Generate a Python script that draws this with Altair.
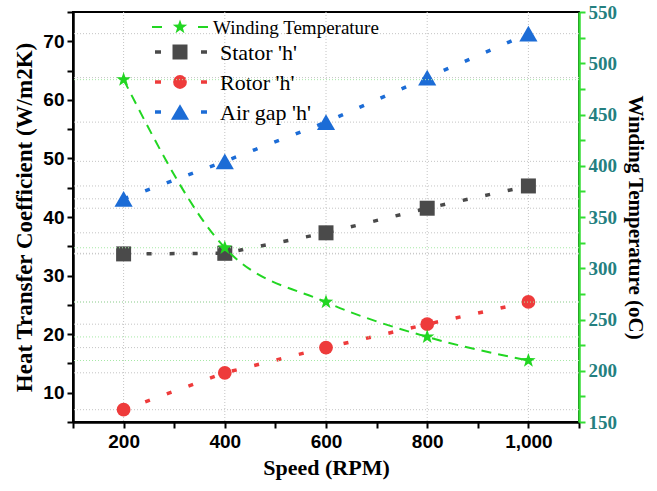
import altair as alt
import pandas as pd

speed = [200, 400, 600, 800, 1000]
stator_h = [33.7, 33.8, 37.3, 41.5, 45.3]
rotor_h = [7.1, 13.4, 17.7, 21.7, 25.5]
airgap_h = [43.1, 49.5, 56.2, 63.8, 71.3]
winding_temp = [484, 320, 267, 233, 210]

series_names = ["Winding Temperature", "Stator 'h'", "Rotor 'h'", "Air gap 'h'"]
series_colors = ["#22d622", "#4a4a4a", "#ee3b3b", "#1c6cd6"]
STAR = ("M0,-1L0.235,-0.324L0.951,-0.309L0.38,0.124L0.588,0.809L0,0.4"
        "L-0.588,0.809L-0.38,0.124L-0.951,-0.309L-0.235,-0.324Z")
series_shapes = [STAR, "square", "circle", "triangle-up"]
series_sizes = [230, 225, 190, 330]

stator_df = pd.DataFrame({"speed": speed, "value": stator_h})
rotor_df = pd.DataFrame({"speed": speed, "value": rotor_h})
airgap_df = pd.DataFrame({"speed": speed, "value": airgap_h})
left_df = pd.concat([stator_df, rotor_df, airgap_df], ignore_index=True)
right_df = pd.DataFrame({"speed": speed, "temp": winding_temp})

x_scale = alt.Scale(domain=[100, 1100], nice=False, zero=False)
yl_scale = alt.Scale(domain=[5, 75], nice=False, zero=False)
yr_scale = alt.Scale(domain=[150, 550], nice=False, zero=False)

x_axis = alt.Axis(
    values=list(range(100, 1101, 100)),
    labelExpr="datum.value % 200 === 0 ? datum.label : ''",
    tickSize=6,
    grid=False, domainColor="black", domainWidth=2.5, tickColor="black", tickWidth=2,
    labelFont="Liberation Sans", labelFontWeight="bold", labelFontSize=19, labelColor="black",
    labelPadding=4,
    title="Speed (RPM)", titleFont="Liberation Serif", titleFontWeight="bold", titleFontSize=22,
    titleColor="black", titlePadding=6,
)
yl_axis = alt.Axis(
    values=list(range(5, 76, 5)),
    labelExpr="datum.value % 10 === 0 ? datum.label : ''",
    tickSize=6,
    grid=False, domainColor="black", domainWidth=2.5, tickColor="black", tickWidth=2,
    labelFont="Liberation Sans", labelFontWeight="bold", labelFontSize=19, labelColor="black",
    labelPadding=3, orient="left",
    title="Heat Transfer Coefficient (W/m2K)", titleFont="Liberation Serif", titleFontWeight="bold",
    titleFontSize=23, titleColor="black", titlePadding=6,
)
yr_axis = alt.Axis(
    values=list(range(150, 551, 25)),
    labelExpr="datum.value % 50 === 0 ? datum.label : ''",
    tickSize=6,
    grid=False, domainColor="#33dd33", domainWidth=2.5, tickColor="#33dd33", tickWidth=2,
    labelFont="Liberation Serif", labelFontWeight="bold", labelFontSize=19, labelColor="#247f80",
    labelPadding=3, orient="right",
    title="Winding Temperature (oC)", titleFont="Liberation Serif", titleFontWeight="bold",
    titleFontSize=21, titleColor="black", titlePadding=8,
)

x_enc = alt.X("speed:Q", scale=x_scale, axis=x_axis)
yl_enc = alt.Y("value:Q", scale=yl_scale, axis=yl_axis)
yr_enc = alt.Y("temp:Q", scale=yr_scale, axis=yr_axis)

# faint drop/grid lines (same axis definitions so the shared axes merge cleanly)
hgrid_left = alt.Chart(left_df).mark_rule(color="#c4c4c4", strokeDash=[1, 2], strokeWidth=1).encode(
    y=yl_enc
)
vgrid = alt.Chart(stator_df).mark_rule(color="#c4c4c4", strokeDash=[1, 2], strokeWidth=1).encode(
    x=x_enc
)
hgrid_right = alt.Chart(right_df).mark_rule(color="#a6e8a6", strokeDash=[1, 2], strokeWidth=1).encode(
    y=yr_enc
)


def left_line(df, color):
    return alt.Chart(df).mark_line(strokeDash=[5, 18], strokeWidth=3.5, color=color).encode(x=x_enc, y=yl_enc)


def left_points(df, color, shape, size):
    return alt.Chart(df).mark_point(filled=True, opacity=1, color=color, shape=shape, size=size).encode(
        x=x_enc, y=yl_enc
    )


line_right = alt.Chart(right_df).mark_line(
    strokeDash=[10, 7], strokeWidth=2, interpolate="monotone", color=series_colors[0]
).encode(x=x_enc, y=yr_enc)
points_right = alt.Chart(right_df).mark_point(
    filled=True, opacity=1, color=series_colors[0], shape=series_shapes[0], size=series_sizes[0]
).encode(x=x_enc, y=yr_enc)

# manual legend (decoration, positioned in pixels inside the plot area)
legend_rows = [15, 40, 70, 100]
legend_font = [19, 22, 22, 22]
legend_text_x = [140, 147, 147, 147]
dash_w = [2, 3.5, 3.5, 3.5]
legend_layers = []
for i, name in enumerate(series_names):
    ld = pd.DataFrame({"label": [name]})
    y = legend_rows[i]
    for xa, xb in [(79, 89), (125, 135)] if i == 0 else [(82, 88), (128, 134)]:
        legend_layers.append(
            alt.Chart(ld).mark_rule(color=series_colors[i], strokeWidth=dash_w[i]).encode(
                x=alt.value(xa), x2=alt.value(xb), y=alt.value(y)
            )
        )
    legend_layers.append(
        alt.Chart(ld).mark_point(
            filled=True, opacity=1, color=series_colors[i], shape=series_shapes[i], size=series_sizes[i]
        ).encode(x=alt.value(107), y=alt.value(y))
    )
    legend_layers.append(
        alt.Chart(ld).mark_text(
            align="left", baseline="middle", font="Liberation Serif", fontSize=legend_font[i], color="black"
        ).encode(x=alt.value(legend_text_x[i]), y=alt.value(y + 1), text="label:N")
    )

left = alt.layer(
    hgrid_left,
    vgrid,
    left_line(stator_df, series_colors[1]),
    left_line(rotor_df, series_colors[2]),
    left_line(airgap_df, series_colors[3]),
    left_points(stator_df, series_colors[1], series_shapes[1], series_sizes[1]),
    left_points(rotor_df, series_colors[2], series_shapes[2], series_sizes[2]),
    left_points(airgap_df, series_colors[3], series_shapes[3], series_sizes[3]),
    *legend_layers,
)
right = alt.layer(hgrid_right, line_right, points_right)

chart = alt.layer(left, right).resolve_scale(y="independent").properties(
    width=506, height=410,
    padding={"left": 73, "top": 12, "right": 78, "bottom": 69},
    autosize=alt.AutoSizeParams(type="none"),
    background="white",
).configure_view(stroke="black", strokeWidth=2)

chart.save("out.html", embed_options={"renderer": "svg", "actions": False})
